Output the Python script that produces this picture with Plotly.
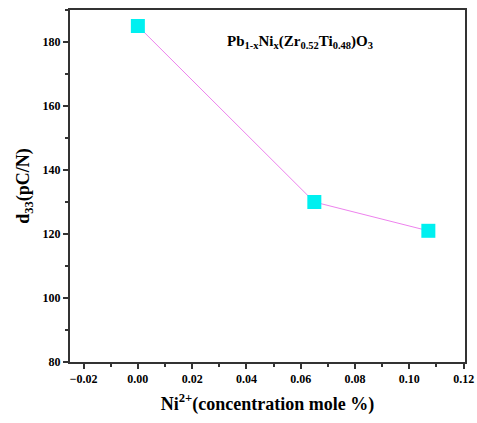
import plotly.graph_objects as go

x_conc = [0.0, 0.065, 0.107]
d33 = [185, 130, 121]

fig = go.Figure()
fig.add_trace(go.Scatter(
    x=x_conc, y=d33, mode="lines+markers",
    line=dict(color="#ee82ee", width=1),
    marker=dict(symbol="square", size=14, color="#00f0f0", line=dict(width=0)),
    showlegend=False,
))

tickfont = dict(family="Liberation Serif", size=12, color="black", weight="bold")
axis_common = dict(
    showline=True, linecolor="#333", linewidth=2, mirror=True,
    ticks="outside", ticklen=5, tickwidth=1.5, tickcolor="#333",
    showgrid=False, zeroline=False, automargin=False,
    tickfont=tickfont,
)
fig.update_xaxes(range=[-0.025, 0.1205], dtick=0.02, tickformat=".2f",
                 minor=dict(ticks="outside", ticklen=3, dtick=0.01, tickcolor="#333"),
                 title=dict(text="<b>Ni<sup>2+</sup>(concentration mole %)</b>",
                            font=dict(family="Liberation Serif", size=18, color="black"), standoff=12),
                 **axis_common)
fig.update_yaxes(range=[80, 190], dtick=20,
                 minor=dict(ticks="outside", ticklen=3, dtick=10, tickcolor="#333"),
                 title=dict(text="<b>d<sub>33</sub>(pC/N)</b>",
                            font=dict(family="Liberation Serif", size=18, color="black"), standoff=8),
                 **axis_common)

fig.add_annotation(
    x=0.032, y=180, xref="x", yref="y", showarrow=False,
    text="<b>Pb<sub>1-x</sub>Ni<sub>x</sub>(Zr<sub>0.52</sub>Ti<sub>0.48</sub>)O<sub>3</sub></b>",
    font=dict(family="Liberation Serif", size=15, color="black"), xanchor="left",
)

fig.update_layout(
    width=477, height=423,
    margin=dict(l=70, r=12, t=10, b=61),
    plot_bgcolor="white", paper_bgcolor="white",
)
fig.write_html("out.html", config={"displayModeBar": False},
               post_script="document.body.style.margin='0';")
